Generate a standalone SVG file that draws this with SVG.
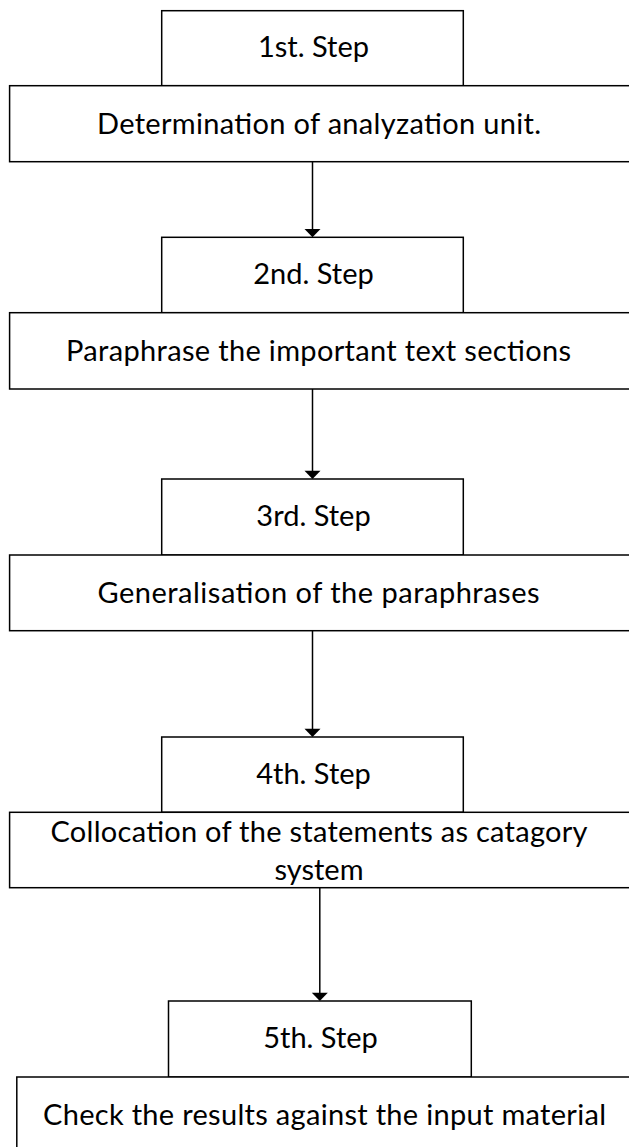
<svg xmlns="http://www.w3.org/2000/svg" width="629" height="1147" viewBox="0 0 629 1147">
  <style>
    .box { fill: #ffffff; stroke: #000000; stroke-width: 1.5; }
    .lbl { font-family: "Lato", "Open Sans", sans-serif; font-size: 29px; fill: #000000; text-anchor: middle; }
    .link { stroke: #000000; stroke-width: 1.5; fill: none; }
    .head { fill: #000000; }
  </style>
  <rect width="629" height="1147" fill="#ffffff"/>

  <!-- flow connectors: vertical lines with filled triangular heads -->
  <g id="connectors">
    <line class="link" x1="312.5" y1="161.7" x2="312.5" y2="229.5"/>
    <path class="head" d="M304.5,229 L320.5,229 L312.5,237.3 Z"/>
    <line class="link" x1="312.5" y1="389" x2="312.5" y2="471"/>
    <path class="head" d="M304.5,470.7 L320.5,470.7 L312.5,479 Z"/>
    <line class="link" x1="312.5" y1="630.7" x2="312.5" y2="729"/>
    <path class="head" d="M304.5,728.7 L320.5,728.7 L312.5,737 Z"/>
    <line class="link" x1="319.8" y1="887.7" x2="319.8" y2="993"/>
    <path class="head" d="M311.8,992.7 L327.8,992.7 L319.8,1001 Z"/>
  </g>

  <g id="step1">
    <rect class="box" x="161.7" y="10.7" width="301.6" height="75"/>
    <text class="lbl" x="313.5" y="57">1st. Step</text>
    <rect class="box" x="9.6" y="85.7" width="625" height="76"/>
    <text class="lbl" x="319" y="133.7" textLength="444" lengthAdjust="spacing">Determination of analyzation unit.</text>
  </g>

  <g id="step2">
    <rect class="box" x="161.7" y="237.3" width="301.6" height="75.4"/>
    <text class="lbl" x="313.5" y="283.8">2nd. Step</text>
    <rect class="box" x="9.6" y="312.7" width="625" height="76.3"/>
    <text class="lbl" x="318.5" y="360.7" textLength="505" lengthAdjust="spacing">Paraphrase the important text sections</text>
  </g>

  <g id="step3">
    <rect class="box" x="161.7" y="479" width="301.6" height="76"/>
    <text class="lbl" x="313.5" y="525.5">3rd. Step</text>
    <rect class="box" x="9.6" y="555" width="625" height="75.7"/>
    <text class="lbl" x="318.5" y="603" textLength="442" lengthAdjust="spacing">Generalisation of the paraphrases</text>
  </g>

  <g id="step4">
    <rect class="box" x="161.7" y="737" width="301.6" height="75.3"/>
    <text class="lbl" x="313.5" y="783.5">4th. Step</text>
    <rect class="box" x="9.6" y="812.3" width="625" height="75.4"/>
    <text class="lbl" x="319" y="841.5" textLength="537" lengthAdjust="spacing">Collocation of the statements as catagory</text>
    <text class="lbl" x="319" y="880">system</text>
  </g>

  <g id="step5">
    <rect class="box" x="168.5" y="1001" width="302.8" height="76"/>
    <text class="lbl" x="320.5" y="1047.5">5th. Step</text>
    <rect class="box" x="16.8" y="1077" width="625" height="80"/>
    <text class="lbl" x="324.5" y="1125" textLength="563" lengthAdjust="spacing">Check the results against the input material</text>
  </g>
</svg>
